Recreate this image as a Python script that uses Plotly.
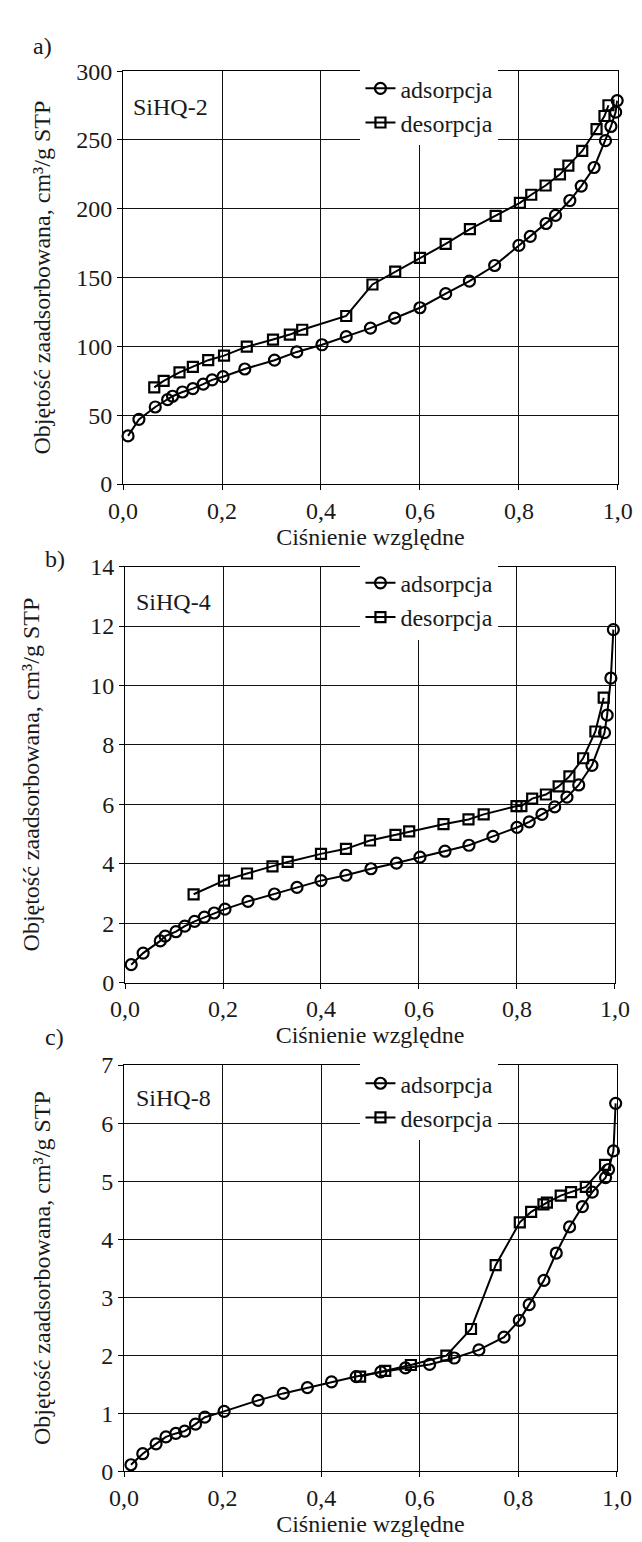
import plotly.graph_objects as go

W, H = 642, 1542

# ---------------- data ----------------
x_ticks = [0.0, 0.2, 0.4, 0.6, 0.8, 1.0]
x_tick_text = ["0,0", "0,2", "0,4", "0,6", "0,8", "1,0"]

a_ads_x = [0.01, 0.032, 0.065, 0.09, 0.10, 0.12, 0.141, 0.162, 0.18, 0.202, 0.246, 0.306, 0.351,
           0.402, 0.451, 0.50, 0.549, 0.60, 0.652, 0.70, 0.751, 0.80, 0.823, 0.855, 0.874, 0.903,
           0.926, 0.952, 0.975, 0.986, 0.9955, 0.9987]
a_ads_y = [35, 47, 56, 61.4, 63.8, 66.9, 69.3, 72.6, 75.7, 78, 83.6, 90, 96,
           101.2, 107.1, 113.3, 120.5, 128.1, 138.3, 147.4, 158.8, 173.4, 180, 189.3, 195.2, 206,
           216.5, 230, 249.5, 259.8, 270.2, 278.6]
a_des_x = [0.063, 0.082, 0.114, 0.141, 0.172, 0.204, 0.25, 0.303, 0.337, 0.362, 0.451, 0.504,
           0.55, 0.60, 0.652, 0.701, 0.753, 0.802, 0.825, 0.854, 0.883, 0.90, 0.928, 0.957, 0.973, 0.981]
a_des_y = [70.2, 75, 81.2, 85.2, 90, 93.3, 99.8, 105, 108.6, 112.1, 122.1, 145,
           154.3, 164.3, 174.5, 185.2, 194.8, 204.3, 210.2, 216.9, 225, 231.3, 242, 257.9, 267.4, 275.2]
a_y_ticks = [0, 50, 100, 150, 200, 250, 300]

b_ads_x = [0.0127, 0.037, 0.072, 0.082, 0.104, 0.122, 0.142, 0.162, 0.182, 0.204, 0.251, 0.305,
           0.351, 0.40, 0.451, 0.502, 0.554, 0.602, 0.653, 0.702, 0.751, 0.80, 0.825, 0.851, 0.877,
           0.902, 0.926, 0.953, 0.9786, 0.984, 0.9916, 0.9967]
b_ads_y = [0.6, 0.99, 1.40, 1.56, 1.71, 1.9, 2.06, 2.2, 2.34, 2.47, 2.73, 2.98,
           3.2, 3.43, 3.61, 3.83, 4.02, 4.22, 4.42, 4.62, 4.92, 5.22, 5.41, 5.66, 5.91,
           6.24, 6.65, 7.31, 8.41, 9.0, 10.25, 11.88]
b_des_x = [0.14, 0.202, 0.249, 0.301, 0.332, 0.40, 0.451, 0.50, 0.552, 0.58, 0.65, 0.701, 0.732,
           0.799, 0.809, 0.831, 0.859, 0.885, 0.907, 0.935, 0.96, 0.977]
b_des_y = [2.97, 3.43, 3.67, 3.91, 4.06, 4.33, 4.5, 4.78, 4.97, 5.09, 5.33, 5.49, 5.66,
           5.94, 5.94, 6.19, 6.33, 6.6, 6.94, 7.55, 8.45, 9.59]
b_y_ticks = [0, 2, 4, 6, 8, 10, 12, 14]

c_ads_x = [0.014, 0.038, 0.065, 0.085, 0.105, 0.123, 0.145, 0.164, 0.203, 0.272, 0.323, 0.372,
           0.421, 0.471, 0.521, 0.571, 0.62, 0.67, 0.72, 0.771, 0.802, 0.822, 0.852, 0.877, 0.904,
           0.93, 0.95, 0.977, 0.983, 0.993, 0.9975]
c_ads_y = [0.11, 0.3, 0.47, 0.59, 0.65, 0.69, 0.81, 0.93, 1.03, 1.22, 1.34, 1.44,
           1.54, 1.63, 1.71, 1.78, 1.84, 1.95, 2.09, 2.31, 2.6, 2.87, 3.29, 3.76, 4.21,
           4.56, 4.81, 5.06, 5.2, 5.52, 6.34]
c_des_x = [0.479, 0.53, 0.582, 0.654, 0.704, 0.754, 0.803, 0.826, 0.851, 0.858, 0.886, 0.907,
           0.937, 0.976]
c_des_y = [1.63, 1.73, 1.83, 1.99, 2.45, 3.55, 4.29, 4.47, 4.6, 4.63, 4.75, 4.81, 4.9, 5.28]
c_y_ticks = [0, 1, 2, 3, 4, 5, 6, 7]

sample_names = ["SiHQ-2", "SiHQ-4", "SiHQ-8"]
panel_letters = ["a)", "b)", "c)"]
series_names = ["adsorpcja", "desorpcja"]
x_title = "Ciśnienie względne"
y_title = "Objętość zaadsorbowana, cm³/g STP"

# ---------------- layout helpers ----------------
FONT = "Liberation Serif"
TXT = "#1a1a1a"
FS = 24

# pixel boxes of the plot areas: (left, right, top, bottom)
boxes = [(105, 624, 51, 471), (107, 621, 555, 978), (106, 623, 1062, 1475)]
legend_tops = [46, 549, 1058]
label_pos = [(20, 25), (34, 547), (33, 1033)]
sample_pos = [(155, 87), (158, 591), (158, 1095)]
ytitle_standoff = [18, 43, 43]

panels = [
    (a_ads_x, a_ads_y, a_des_x, a_des_y, a_y_ticks),
    (b_ads_x, b_ads_y, b_des_x, b_des_y, b_y_ticks),
    (c_ads_x, c_ads_y, c_des_x, c_des_y, c_y_ticks),
]

fig = go.Figure()
layout = dict(
    width=W, height=H, autosize=False,
    margin=dict(l=0, r=0, t=0, b=0),
    paper_bgcolor="white", plot_bgcolor="white",
    font=dict(family=FONT, size=FS, color=TXT),
    annotations=[],
)

for i, (ax_, ay_, dx_, dy_, yt) in enumerate(panels):
    n = "" if i == 0 else str(i + 1)
    l, r, t, b = boxes[i]
    xa = dict(
        domain=[l / W, r / W], anchor="y" + n, range=[0, 1],
        tickmode="array", tickvals=x_ticks, ticktext=x_tick_text,
        showline=True, mirror=True, linecolor="#000", linewidth=1,
        ticks="outside", ticklen=5, tickcolor="#000",
        showgrid=True, gridcolor="#111", gridwidth=1, zeroline=False,
        tickfont=dict(family=FONT, size=FS, color=TXT),
        title=dict(text=x_title, font=dict(family=FONT, size=FS, color=TXT), standoff=2),
        fixedrange=True,
    )
    ya = dict(
        domain=[1 - b / H, 1 - t / H], anchor="x" + n, range=[yt[0], yt[-1]],
        tickmode="array", tickvals=yt, ticktext=[str(v) for v in yt],
        showline=True, mirror=True, linecolor="#000", linewidth=1,
        ticks="outside", ticklen=5, tickcolor="#000",
        showgrid=True, gridcolor="#111", gridwidth=1, zeroline=False,
        tickfont=dict(family=FONT, size=FS, color=TXT),
        title=dict(text=y_title, font=dict(family=FONT, size=FS, color=TXT),
                   standoff=ytitle_standoff[i]),
        fixedrange=True,
    )
    layout["xaxis" + n] = xa
    layout["yaxis" + n] = ya
    leg = "legend" + n
    layout[leg] = dict(
        x=354 / W, y=1 - legend_tops[i] / H, xanchor="left", yanchor="top",
        bgcolor="white", borderwidth=0,
        font=dict(family=FONT, size=FS, color=TXT),
        traceorder="normal",
    )
    for sx, sy, nm, sym, sz in [(ax_, ay_, series_names[0], "circle-open", 11),
                                (dx_, dy_, series_names[1], "square-open", 10)]:
        fig.add_trace(go.Scatter(
            x=sx, y=sy, name=nm, mode="lines+markers",
            xaxis="x" + n, yaxis="y" + n, legend=leg,
            line=dict(color="#000", width=2),
            marker=dict(symbol=sym, size=sz, color="#000", line=dict(width=2.2, color="#000")),
            cliponaxis=False,
        ))
    layout["annotations"].append(dict(
        text=panel_letters[i], xref="paper", yref="paper",
        x=label_pos[i][0] / W, y=1 - label_pos[i][1] / H,
        xanchor="center", yanchor="middle", showarrow=False,
        font=dict(family=FONT, size=FS, color=TXT)))
    layout["annotations"].append(dict(
        text=sample_names[i], xref="paper", yref="paper",
        x=sample_pos[i][0] / W, y=1 - sample_pos[i][1] / H,
        xanchor="center", yanchor="middle", showarrow=False,
        font=dict(family=FONT, size=FS, color=TXT)))

fig.update_layout(**layout)
fig.write_html("out.html")
